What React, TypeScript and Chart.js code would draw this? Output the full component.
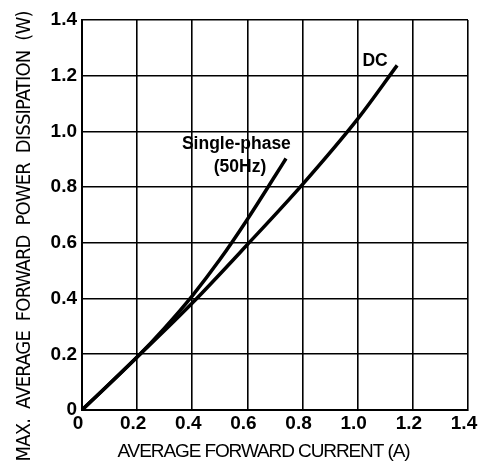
import React, { useEffect, useRef } from 'react';
import { Chart, registerables } from 'chart.js';

Chart.register(...registerables);

// Axis ticks
const xTicks = [0, 0.2, 0.4, 0.6, 0.8, 1.0, 1.2, 1.4];
const yTicks = [0, 0.2, 0.4, 0.6, 0.8, 1.0, 1.2, 1.4];

// DC curve
const dcCurrent = [0, 0.2, 0.4, 0.6, 0.8, 1.0, 1.143];
const dcPower = [0, 0.19, 0.384, 0.594, 0.81, 1.045, 1.237];

// Single-phase (50Hz) curve
const spCurrent = [0, 0.2, 0.3, 0.4, 0.5, 0.6, 0.7, 0.74];
const spPower = [0, 0.19, 0.295, 0.41, 0.54, 0.685, 0.84, 0.903];

// Curve annotations (data coordinates)
const noteText = ['DC', 'Single-phase', '(50Hz)'];
const noteX = [1.063, 0.56, 0.573];
const noteY = [1.253, 0.955, 0.872];

const xTitle = 'AVERAGE FORWARD CURRENT (A)';
const yTitle = 'MAX.  AVERAGE  FORWARD  POWER  DISSIPATION  (W)';

const FONT = '"Liberation Sans", Arial, Helvetica, sans-serif';

function fitText(ctx: CanvasRenderingContext2D, text: string, x: number, y: number, target: number) {
  (ctx as any).letterSpacing = '0px';
  const w = ctx.measureText(text).width;
  const ls = (target - w) / text.length;
  (ctx as any).letterSpacing = ls + 'px';
  ctx.fillText(text, x + ls / 2, y);
  (ctx as any).letterSpacing = '0px';
}

const annotationPlugin = {
  id: 'annotations',
  afterDatasetsDraw(chart: any) {
    const ctx = chart.ctx as CanvasRenderingContext2D;
    const xs = chart.scales.x;
    const ys = chart.scales.y;
    ctx.save();
    ctx.fillStyle = '#000';
    ctx.textAlign = 'center';
    ctx.textBaseline = 'middle';
    ctx.font = `bold 17.5px ${FONT}`;
    noteText.forEach((t, i) => {
      ctx.fillText(t, xs.getPixelForValue(noteX[i]), ys.getPixelForValue(noteY[i]));
    });
    ctx.restore();
  },
  afterDraw(chart: any) {
    const ctx = chart.ctx as CanvasRenderingContext2D;
    ctx.save();
    ctx.fillStyle = '#000';
    ctx.textAlign = 'center';
    ctx.textBaseline = 'middle';
    ctx.font = `19px ${FONT}`;
    fitText(ctx, xTitle, 264, 452, 292);
    ctx.translate(25, 236);
    ctx.rotate(-Math.PI / 2);
    ctx.font = `20px "Liberation Sans Narrow", "DejaVu Sans Condensed", ${FONT}`;
    fitText(ctx, yTitle, 0, 0, 450);
    ctx.restore();
  },
};

export default function App() {
  const ref = useRef<HTMLCanvasElement | null>(null);

  useEffect(() => {
    if (!ref.current) return;
    const chart = new Chart(ref.current, {
      type: 'scatter',
      data: {
        datasets: [
          {
            label: 'DC',
            data: dcCurrent.map((x, i) => ({ x, y: dcPower[i] })),
            showLine: true,
            borderColor: '#000',
            borderWidth: 3.5,
            pointRadius: 0,
            cubicInterpolationMode: 'monotone',
          },
          {
            label: 'Single-phase (50Hz)',
            data: spCurrent.map((x, i) => ({ x, y: spPower[i] })),
            showLine: true,
            borderColor: '#000',
            borderWidth: 3.5,
            pointRadius: 0,
            cubicInterpolationMode: 'monotone',
          },
        ],
      },
      options: {
        animation: false,
        responsive: false,
        layout: { padding: { top: 20, right: 12, left: 0, bottom: 0 } },
        plugins: { legend: { display: false }, tooltip: { enabled: false } },
        scales: {
          x: {
            type: 'linear',
            min: 0,
            max: 1.4,
            afterBuildTicks: (s: any) => {
              s.ticks = xTicks.map((v) => ({ value: v }));
            },
            afterFit: (s: any) => {
              s.height = 53;
              s.paddingLeft = 0;
              s.paddingRight = 0;
            },
            grid: { color: '#000', lineWidth: 1.6, drawTicks: false },
            border: { color: '#000', width: 2 },
            ticks: {
              color: '#000',
              padding: 2,
              labelOffset: -4,
              maxRotation: 0,
              autoSkip: false,
              font: { family: FONT, size: 19, weight: 'bold' },
              callback: (v: any) => (v === 0 ? '0' : Number(v).toFixed(1)),
            },
          },
          y: {
            type: 'linear',
            min: 0,
            max: 1.4,
            afterBuildTicks: (s: any) => {
              s.ticks = yTicks.map((v) => ({ value: v }));
            },
            afterFit: (s: any) => {
              s.width = 82;
              s.paddingTop = 0;
              s.paddingBottom = 0;
            },
            grid: { color: '#000', lineWidth: 1.6, drawTicks: false },
            border: { color: '#000', width: 2 },
            ticks: {
              color: '#000',
              padding: 5,
              autoSkip: false,
              font: { family: FONT, size: 19, weight: 'bold' },
              callback: (v: any) => (v === 0 ? '0' : Number(v).toFixed(1)),
            },
          },
        },
      } as any,
      plugins: [annotationPlugin],
    });
    return () => chart.destroy();
  }, []);

  return (
    <div style={{ position: 'absolute', left: 0, top: 0, width: 480, height: 463, background: '#fff' }}>
      <canvas ref={ref} width={480} height={463} style={{ display: 'block' }} />
    </div>
  );
}
